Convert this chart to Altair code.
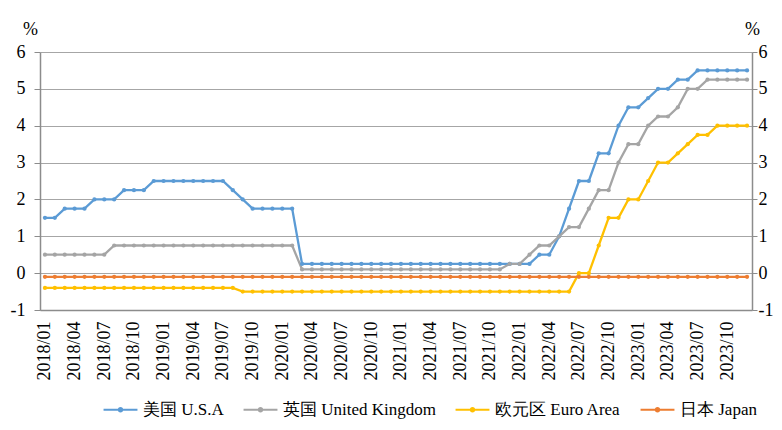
import altair as alt
import pandas as pd

months = [f"{y}/{m:02d}" for y in range(2018, 2024) for m in range(1, 13)]
tick_labels = [f"{y}/{m:02d}" for y in range(2018, 2024) for m in (1, 4, 7, 10)]

series_names = ["美国 U.S.A", "英国 United Kingdom", "欧元区 Euro Area", "日本 Japan"]
colors = ["#5B9BD5", "#A5A5A5", "#FFC000", "#ED7D31"]

usa = [
    1.5, 1.5, 1.75, 1.75, 1.75, 2.0, 2.0, 2.0, 2.25, 2.25, 2.25, 2.5,
    2.5, 2.5, 2.5, 2.5, 2.5, 2.5, 2.5, 2.25, 2.0, 1.75, 1.75, 1.75,
    1.75, 1.75, 0.25, 0.25, 0.25, 0.25, 0.25, 0.25, 0.25, 0.25, 0.25, 0.25,
    0.25, 0.25, 0.25, 0.25, 0.25, 0.25, 0.25, 0.25, 0.25, 0.25, 0.25, 0.25,
    0.25, 0.25, 0.5, 0.5, 1.0, 1.75, 2.5, 2.5, 3.25, 3.25, 4.0, 4.5,
    4.5, 4.75, 5.0, 5.0, 5.25, 5.25, 5.5, 5.5, 5.5, 5.5, 5.5, 5.5,
]
uk = [
    0.5, 0.5, 0.5, 0.5, 0.5, 0.5, 0.5, 0.75, 0.75, 0.75, 0.75, 0.75,
    0.75, 0.75, 0.75, 0.75, 0.75, 0.75, 0.75, 0.75, 0.75, 0.75, 0.75, 0.75,
    0.75, 0.75, 0.1, 0.1, 0.1, 0.1, 0.1, 0.1, 0.1, 0.1, 0.1, 0.1,
    0.1, 0.1, 0.1, 0.1, 0.1, 0.1, 0.1, 0.1, 0.1, 0.1, 0.1, 0.25,
    0.25, 0.5, 0.75, 0.75, 1.0, 1.25, 1.25, 1.75, 2.25, 2.25, 3.0, 3.5,
    3.5, 4.0, 4.25, 4.25, 4.5, 5.0, 5.0, 5.25, 5.25, 5.25, 5.25, 5.25,
]
euro = [
    -0.4, -0.4, -0.4, -0.4, -0.4, -0.4, -0.4, -0.4, -0.4, -0.4, -0.4, -0.4,
    -0.4, -0.4, -0.4, -0.4, -0.4, -0.4, -0.4, -0.4, -0.5, -0.5, -0.5, -0.5,
    -0.5, -0.5, -0.5, -0.5, -0.5, -0.5, -0.5, -0.5, -0.5, -0.5, -0.5, -0.5,
    -0.5, -0.5, -0.5, -0.5, -0.5, -0.5, -0.5, -0.5, -0.5, -0.5, -0.5, -0.5,
    -0.5, -0.5, -0.5, -0.5, -0.5, -0.5, 0.0, 0.0, 0.75, 1.5, 1.5, 2.0,
    2.0, 2.5, 3.0, 3.0, 3.25, 3.5, 3.75, 3.75, 4.0, 4.0, 4.0, 4.0,
]
japan = [
    -0.1, -0.1, -0.1, -0.1, -0.1, -0.1, -0.1, -0.1, -0.1, -0.1, -0.1, -0.1,
    -0.1, -0.1, -0.1, -0.1, -0.1, -0.1, -0.1, -0.1, -0.1, -0.1, -0.1, -0.1,
    -0.1, -0.1, -0.1, -0.1, -0.1, -0.1, -0.1, -0.1, -0.1, -0.1, -0.1, -0.1,
    -0.1, -0.1, -0.1, -0.1, -0.1, -0.1, -0.1, -0.1, -0.1, -0.1, -0.1, -0.1,
    -0.1, -0.1, -0.1, -0.1, -0.1, -0.1, -0.1, -0.1, -0.1, -0.1, -0.1, -0.1,
    -0.1, -0.1, -0.1, -0.1, -0.1, -0.1, -0.1, -0.1, -0.1, -0.1, -0.1, -0.1,
]
y_ticks = [-1, 0, 1, 2, 3, 4, 5, 6]

rows = []
for name, vals in zip(series_names, [usa, uk, euro, japan]):
    for m, v in zip(months, vals):
        rows.append({"month": m, "series": name, "value": v})
df = pd.DataFrame(rows)

FONT = "Liberation Serif"
MINUS = "replace(datum.label, '\u2212', '-')"

x_enc = alt.X(
    "month:N", sort=months,
    scale=alt.Scale(type="point", padding=0.5),
    axis=alt.Axis(values=tick_labels, labelAngle=-90, ticks=False, grid=False,
                  domainColor="#8c8c8c", domainWidth=1.5, labelFont=FONT,
                  labelFontSize=18, labelColor="#000", labelPadding=11, title=None),
)
y_scale = alt.Scale(domain=[-1, 6], nice=False, zero=False)
color_enc = alt.Color(
    "series:N", sort=series_names,
    scale=alt.Scale(domain=series_names, range=colors),
    legend=alt.Legend(
        orient="none", direction="horizontal", legendX=62, legendY=339,
        title=None, labelFont=FONT, labelFontSize=17, labelColor="#000",
        symbolType="M-1,0L1,0M-0.1,0A0.1,0.1,0,1,1,0.1,0A0.1,0.1,0,1,1,-0.1,0",
        symbolSize=1150, symbolStrokeWidth=2.2, labelOffset=4, columnPadding=15,
    ),
)

lines = alt.Chart(df).mark_line(strokeWidth=2.3).encode(
    x=x_enc,
    y=alt.Y("value:Q", scale=y_scale,
            axis=alt.Axis(orient="left", values=y_ticks, grid=True, gridColor="#a6a6a6",
                          gridWidth=1, domainColor="#8c8c8c", domainWidth=1.5,
                          tickColor="#8c8c8c", tickSize=6, labelPadding=9,
                          labelExpr=MINUS,
                          labelFont=FONT, labelFontSize=18, labelColor="#000",
                          title="%", titleAngle=0, titleX=-10, titleY=-23,
                          titleAlign="center", titleBaseline="middle",
                          titleFont=FONT, titleFontSize=18, titleFontWeight="normal",
                          titleColor="#000")),
    color=color_enc,
)

points = alt.Chart(df).mark_circle(size=18, opacity=1).encode(
    x=x_enc,
    y=alt.Y("value:Q", scale=y_scale,
            axis=alt.Axis(orient="right", values=y_ticks, grid=False,
                          domainColor="#8c8c8c", domainWidth=1.5,
                          tickColor="#8c8c8c", tickSize=5, labelPadding=1,
                          labelExpr=MINUS,
                          labelFont=FONT, labelFontSize=18, labelColor="#000",
                          title="%", titleAngle=0, titleX=0, titleY=-23,
                          titleAlign="center", titleBaseline="middle",
                          titleFont=FONT, titleFontSize=18, titleFontWeight="normal",
                          titleColor="#000")),
    color=alt.Color("series:N", sort=series_names,
                    scale=alt.Scale(domain=series_names, range=colors), legend=None),
)

chart = alt.layer(lines, points).resolve_scale(y="shared").resolve_axis(y="independent").properties(
    width=712, height=258,
    padding={"left": 32, "top": 44, "right": 22, "bottom": 112},
    autosize="none",
    background="white",
).configure_view(stroke=None)

chart.save("out.html", embed_options={"renderer": "svg", "actions": False})
